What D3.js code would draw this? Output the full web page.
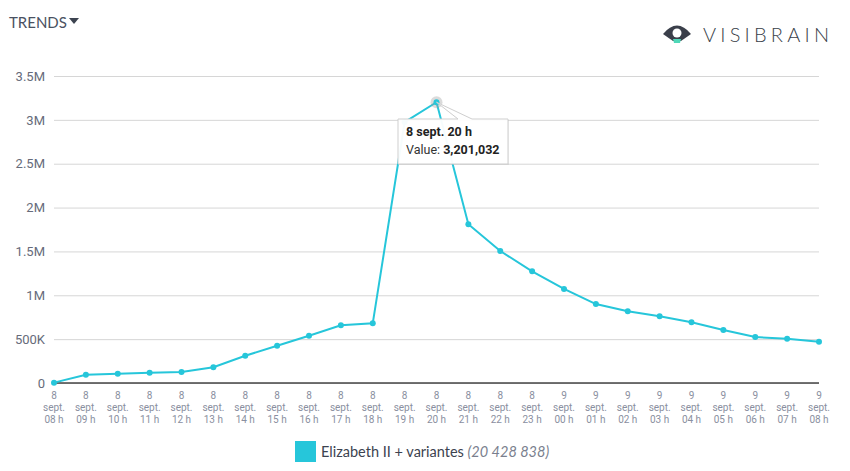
<!DOCTYPE html>
<html>
<head>
<meta charset="utf-8">
<script src="https://cdn.jsdelivr.net/npm/d3@7"></script>
<style>
  body { margin: 0; background: #fff; }
  svg { display: block; }
</style>
</head>
<body>
<div id="chart"></div>
<script>
// --- data ---
const days = ["8","8","8","8","8","8","8","8","8","8","8","8","8","8","8","8",
              "9","9","9","9","9","9","9","9","9"];
const hours = ["08","09","10","11","12","13","14","15","16","17","18","19","20","21","22","23",
               "00","01","02","03","04","05","06","07","08"];
const values = [4000, 95000, 106000, 117000, 125000, 179000, 311000, 425000, 539000, 658000, 680000,
                2975000, 3201032, 1810000, 1505000, 1273000, 1072000, 900000, 817000, 760000,
                692000, 604000, 524000, 505000, 471000];
const yTicks = [0, 500000, 1000000, 1500000, 2000000, 2500000, 3000000, 3500000];
const seriesName = "Elizabeth II + variantes";
const seriesTotal = "(20 428 838)";
const hoverIndex = 12;

const width = 850, height = 471;
const margin = { left: 54, right: 31, top: 76, bottom: 88 };
const color = "#26c6da";

const svg = d3.select("#chart").append("svg")
    .attr("width", width)
    .attr("height", height);

const x = d3.scalePoint()
    .domain(d3.range(values.length))
    .range([margin.left, width - margin.right]);

const y = d3.scaleLinear()
    .domain([0, 3500000])
    .range([height - margin.bottom, margin.top]);

// header
svg.append("text")
    .attr("x", 9).attr("y", 28)
    .attr("font-family", "Lato, sans-serif")
    .attr("font-size", 15)
    .attr("fill", "#4a5161")
    .text("TRENDS");
svg.append("path")
    .attr("d", "M69,18 L79,18 L74,24 Z")
    .attr("fill", "#3c4350");

// logo
const logo = svg.append("g").attr("transform", "translate(677,33)");
logo.append("path")
    .attr("d", "M-14,1 Q0,-16 14,1 Q7,6 4,8 L-4,8 Q-7,6 -14,1 Z")
    .attr("fill", "#3a3f4a");
logo.append("circle").attr("r", 4.5).attr("cy", 0).attr("fill", "#fff");
logo.append("path")
    .attr("d", "M-4,6 L4,6 L3,10 L-3,10 Z")
    .attr("fill", "#4fd8b8");
svg.append("text")
    .attr("x", 703).attr("y", 42)
    .attr("font-family", "Lato, sans-serif")
    .attr("font-weight", 300)
    .attr("font-size", 20)
    .attr("letter-spacing", 4.2)
    .attr("fill", "#3a3f4a")
    .text("VISIBRAIN");

// y grid + labels
const yAxis = d3.axisLeft(y)
    .tickValues(yTicks)
    .tickSize(-(width - margin.left - margin.right))
    .tickPadding(9)
    .tickFormat(d => d === 0 ? "0" : d >= 1000000 ? (d / 1000000) + "M" : (d / 1000) + "K");
const gy = svg.append("g")
    .attr("transform", `translate(${margin.left},0)`)
    .call(yAxis);
gy.select(".domain").remove();
gy.selectAll("line").attr("stroke", "#d6d6d6").attr("stroke-width", 1);
gy.selectAll("text")
    .attr("font-family", "Roboto, sans-serif")
    .attr("font-size", 13)
    .attr("fill", "#666b7a");

// x axis baseline
svg.append("line")
    .attr("x1", margin.left).attr("x2", width - margin.right)
    .attr("y1", y(0)).attr("y2", y(0))
    .attr("stroke", "#444").attr("stroke-width", 1.5);

// x tick labels (3 separate lines)
const rows = [
    { dy: 16, txt: i => days[i] },
    { dy: 28, txt: i => "sept." },
    { dy: 40, txt: i => hours[i] + " h" }
];
const gx = svg.append("g");
rows.forEach(r => {
    gx.append("g").selectAll("text")
        .data(d3.range(values.length))
        .join("text")
        .attr("x", d => x(d))
        .attr("y", y(0) + r.dy)
        .attr("text-anchor", "middle")
        .attr("font-family", "Roboto, sans-serif")
        .attr("font-size", 10)
        .attr("fill", "#8a8fa0")
        .text(r.txt);
});

// series line
const line = d3.line()
    .x((d, i) => x(i))
    .y(d => y(d));
svg.append("path")
    .datum(values)
    .attr("d", line)
    .attr("fill", "none")
    .attr("stroke", color)
    .attr("stroke-width", 2);

// halo on hovered point
svg.append("circle")
    .attr("cx", x(hoverIndex)).attr("cy", y(values[hoverIndex]))
    .attr("r", 6)
    .attr("fill", "#999").attr("fill-opacity", 0.35);

svg.append("g").selectAll("circle")
    .data(values)
    .join("circle")
    .attr("cx", (d, i) => x(i))
    .attr("cy", d => y(d))
    .attr("r", 3)
    .attr("fill", color);

// tooltip
const px = x(hoverIndex), py = y(values[hoverIndex]);
const tx = 398, ty = 119, tw = 110, th = 45;
const tipPath = `M${tx},${ty} L${tx + 60},${ty} L${px},${py} L${tx + 74},${ty} L${tx + tw},${ty} L${tx + tw},${ty + th} L${tx},${ty + th} Z`;
const tip = svg.append("g");
tip.append("path")
    .attr("d", tipPath)
    .attr("fill", "#000").attr("fill-opacity", 0.06)
    .attr("transform", "translate(1,1)");
tip.append("path")
    .attr("d", tipPath)
    .attr("fill", "#fff").attr("fill-opacity", 0.96)
    .attr("stroke", "#cfcfcf").attr("stroke-width", 1);
tip.append("text")
    .attr("x", tx + 8).attr("y", ty + 17)
    .attr("font-family", "Roboto, sans-serif")
    .attr("font-size", 12.5)
    .attr("font-weight", "bold")
    .attr("fill", "#222")
    .text(days[hoverIndex] + " sept. " + hours[hoverIndex] + " h");
const vt = tip.append("text")
    .attr("x", tx + 8).attr("y", ty + 35)
    .attr("font-family", "Roboto, sans-serif")
    .attr("font-size", 12.5)
    .attr("fill", "#333");
vt.append("tspan").text("Value: ");
vt.append("tspan").attr("font-weight", "bold").attr("fill", "#222").text(d3.format(",")(values[hoverIndex]));

// legend
const lg = svg.append("g");
lg.append("rect")
    .attr("x", 295).attr("y", 441)
    .attr("width", 21).attr("height", 21)
    .attr("fill", color);
const lt = lg.append("text")
    .attr("x", 321).attr("y", 457)
    .attr("font-family", "Lato, sans-serif")
    .attr("font-size", 14.5)
    .attr("fill", "#3c4350");
lt.append("tspan").text(seriesName + " ");
lt.append("tspan").attr("font-style", "italic").attr("fill", "#7a7f8e").text(seriesTotal);
</script>
</body>
</html>
